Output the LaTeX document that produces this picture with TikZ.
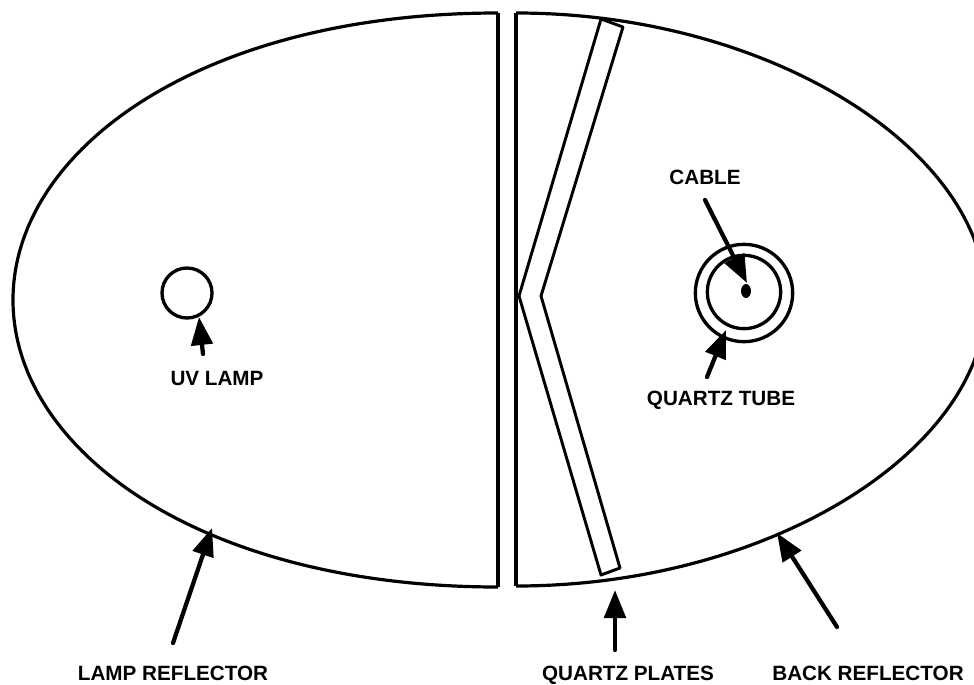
\documentclass[tikz,border=0pt]{standalone}
\usepackage{fontspec}
\setmainfont{Liberation Sans}
\usetikzlibrary{arrows.meta,shapes.geometric}
\tikzset{
  px/.style={x=0.75pt,y=-0.75pt},
  outline/.style={draw=black,line width=2.4pt,line join=round},
  plate/.style={draw=black,line width=2.2pt,line join=round},
  ring/.style={circle,draw=black,line width=2.5pt,inner sep=0pt},
  pointer/.style={draw=black,line width=3.2pt,line cap=round,-{Triangle[length=21pt,width=16pt]}},
  lbl/.style={font=\fontsize{15.5pt}{17pt}\selectfont\bfseries,text=black,inner sep=0pt,text height=11pt,text depth=0pt}
}
\begin{document}
\begin{tikzpicture}[px]
\useasboundingbox (0,0) rectangle (974,685);
\clip (0,0) rectangle (974,685);
\draw[outline] (498,13) -- (498,587);
\draw[outline] (498,13) .. controls (200,13) and (13,150) .. (13,300) .. controls (13,450) and (200,587) .. (498,587);
\draw[outline] (516,13) -- (516,586);
\draw[outline] (516,13) .. controls (770,13) and (986,150) .. (986,300) .. controls (986,450) and (770,586) .. (516,586);
\draw[plate] (601,19) -- (519,296) -- (601,575) -- (620,568) -- (541,296) -- (623,27) -- cycle;
\node[ring,minimum size=37.5pt] (lamp) at (187,293) {};
\node[ring,minimum size=73pt] (tubeo) at (744,293) {};
\node[ring,minimum size=55pt] (tubei) at (744,292) {};
\node[ellipse,fill=black,minimum width=7.5pt,minimum height=10.5pt,inner sep=0pt] (cable) at (746,291) {};
\node[lbl] (uv) at (217,378) {UV LAMP};
\node[lbl] (cablel) at (705,177) {CABLE};
\node[lbl] (qt) at (721,398) {QUARTZ TUBE};
\node[lbl] (lr) at (173,673) {LAMP REFLECTOR};
\node[lbl] (qp) at (628,673) {QUARTZ PLATES};
\node[lbl] (br) at (868,673) {BACK REFLECTOR};
\coordinate (a1) at (203,354);
\coordinate (a1e) at (199,317);
\coordinate (a2) at (173,643);
\coordinate (a2e) at (212,528);
\coordinate (a3) at (705,200);
\coordinate (a3e) at (747,283);
\coordinate (a4) at (707,377);
\coordinate (a4e) at (726,330);
\coordinate (a5) at (615,650);
\coordinate (a5e) at (615,590);
\coordinate (a6) at (837,627);
\coordinate (a6e) at (777,533);
\draw[pointer] (a1) -- (a1e);
\draw[pointer] (a2) -- (a2e);
\draw[pointer] (a3) -- (a3e);
\draw[pointer] (a4) -- (a4e);
\draw[pointer] (a5) -- (a5e);
\draw[pointer] (a6) -- (a6e);
\end{tikzpicture}
\end{document}
